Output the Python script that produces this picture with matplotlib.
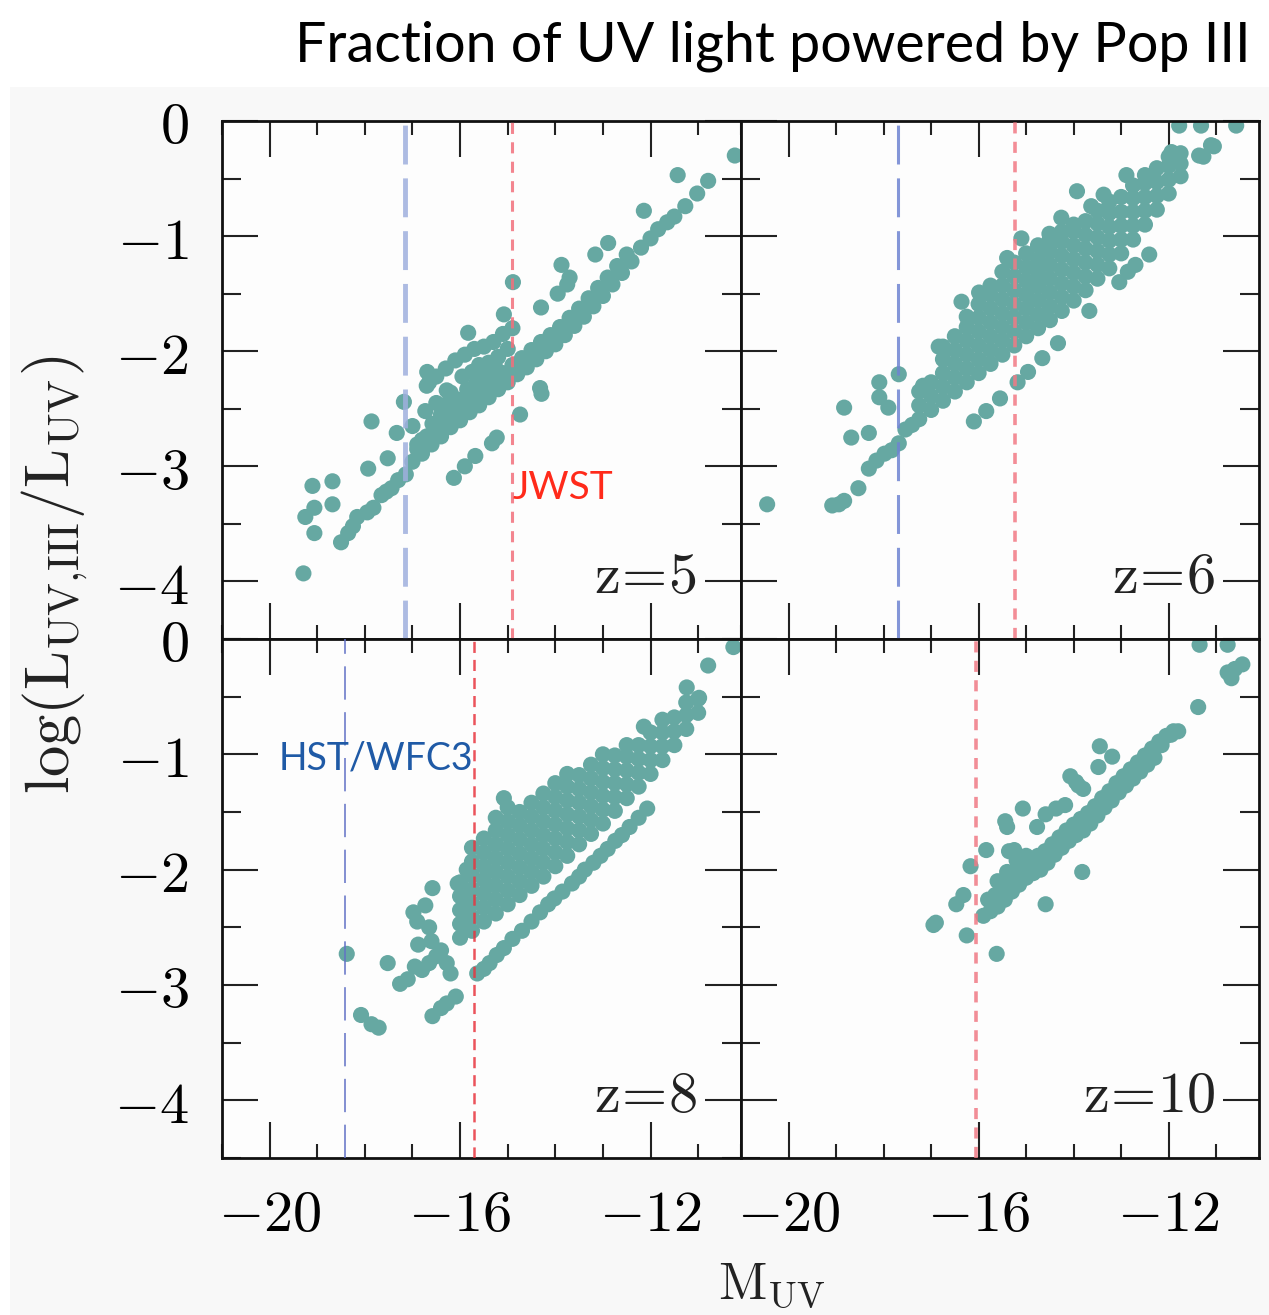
import matplotlib
matplotlib.use("Agg")
import matplotlib.pyplot as plt
from matplotlib.patches import Rectangle
from matplotlib.ticker import FixedLocator, FixedFormatter, MultipleLocator

plt.rcParams["mathtext.fontset"] = "cm"
plt.rcParams["lines.scale_dashes"] = False

# ---- data: (M_UV, log L_UV,III / L_UV) ----
REDSHIFTS = ["5", "6", "8", "10"]

Z5_POINTS = [
    # bright end
    (-19.29, -3.93), (-19.10, -3.17), (-18.68, -3.13), (-19.25, -3.44),
    (-19.06, -3.36), (-18.68, -3.33), (-19.06, -3.58),
    # lower sequence
    (-18.50, -3.66), (-18.35, -3.58), (-18.25, -3.52), (-18.16, -3.44),
    (-17.95, -3.40), (-17.82, -3.36), (-17.65, -3.25), (-17.55, -3.22),
    (-17.44, -3.19), (-17.30, -3.12), (-17.14, -3.07),
    # scatter above the sequence
    (-17.86, -2.61), (-17.93, -3.02), (-17.52, -2.93), (-17.33, -2.71),
    (-17.18, -2.44), (-16.73, -2.52), (-16.58, -2.63), (-16.80, -2.77),
    (-16.69, -2.18), (-16.65, -2.27), (-16.28, -2.34), (-16.28, -2.46),
    (-17.00, -2.65), (-16.90, -2.85),
    # cluster above the band
    (-16.70, -2.30), (-16.50, -2.22), (-16.30, -2.15), (-16.10, -2.08),
    (-15.90, -2.03), (-15.70, -1.98), (-15.50, -1.96), (-15.30, -1.92),
    (-15.10, -1.85), (-14.90, -1.80), (-14.30, -1.62), (-13.95, -1.50),
    (-16.50, -2.45), (-16.20, -2.36), (-15.95, -2.22), (-15.75, -2.18),
    (-15.60, -2.12), (-15.40, -2.10), (-15.20, -2.05), (-15.00, -1.98),
    (-16.40, -2.55), (-16.05, -2.42), (-15.85, -2.33), (-15.65, -2.27),
    (-15.45, -2.21), (-15.25, -2.15),
    # outliers above
    (-15.83, -1.84), (-15.08, -1.68), (-14.89, -1.40), (-13.87, -1.25),
    (-13.75, -1.42), (-13.70, -1.36), (-13.16, -1.16), (-12.89, -1.06),
    (-12.14, -0.78), (-11.43, -0.47), (-10.23, -0.30),
    # sequence below the band
    (-16.13, -3.10), (-15.90, -3.00), (-15.68, -2.91), (-15.33, -2.80),
    (-15.23, -2.75), (-14.74, -2.55), (-14.32, -2.32), (-14.29, -2.37),
    # main band, lower row
    (-17.0, -2.96), (-16.8, -2.89), (-16.6, -2.81), (-16.4, -2.74),
    (-16.2, -2.66), (-16.0, -2.60), (-15.8, -2.53), (-15.6, -2.47),
    (-15.4, -2.40), (-15.2, -2.33), (-15.0, -2.27), (-14.8, -2.20),
    (-14.6, -2.14), (-14.4, -2.07), (-14.2, -2.00), (-14.0, -1.94),
    (-13.8, -1.86), (-13.6, -1.78), (-13.4, -1.70), (-13.2, -1.61),
    (-13.0, -1.52), (-12.8, -1.42), (-12.6, -1.32), (-12.4, -1.22),
    # main band, upper row
    (-16.9, -2.81), (-16.7, -2.74), (-16.5, -2.66), (-16.3, -2.59),
    (-16.1, -2.52), (-15.9, -2.45), (-15.7, -2.39), (-15.5, -2.33),
    (-15.3, -2.26), (-15.1, -2.19), (-14.9, -2.12), (-14.7, -2.06),
    (-14.5, -1.99), (-14.3, -1.92), (-14.1, -1.86), (-13.9, -1.79),
    (-13.7, -1.71), (-13.5, -1.63), (-13.3, -1.54), (-13.1, -1.45),
    (-12.9, -1.36), (-12.7, -1.26), (-12.5, -1.16),
    # faint end
    (-12.20, -1.10), (-12.00, -1.02), (-11.84, -0.94), (-11.65, -0.88),
    (-11.50, -0.83), (-11.27, -0.74), (-11.02, -0.63), (-10.79, -0.52),
]

Z6_POINTS = [
    (-20.45, -3.33),
    (-19.08, -3.34), (-18.94, -3.33), (-18.83, -3.30), (-18.53, -3.19),
    (-18.31, -3.02), (-18.15, -2.95), (-17.98, -2.89), (-17.83, -2.86),
    (-17.68, -2.80), (-17.54, -2.68), (-17.40, -2.64),
    (-18.83, -2.49), (-18.68, -2.75), (-18.31, -2.71), (-18.09, -2.27),
    (-18.09, -2.40), (-17.90, -2.49), (-17.68, -2.20), (-17.17, -2.30),
    (-16.84, -1.96), (-16.36, -1.57),
    # sequence below the cloud
    (-16.10, -2.61), (-15.84, -2.52), (-15.55, -2.41), (-15.18, -2.27),
    (-14.96, -2.18), (-14.66, -2.06), (-14.33, -1.93), (-13.04, -1.40),
    (-12.86, -1.31), (-12.70, -1.25), (-12.41, -1.16), (-13.67, -1.65),
    # spikes above the cloud
    (-15.10, -1.02), (-14.51, -0.98), (-14.26, -0.84), (-13.93, -0.61),
    (-13.63, -0.74), (-13.37, -0.64), (-12.89, -0.47), (-11.94, -0.27),
    (-15.40, -1.19), (-15.99, -1.49),
    # faint end
    (-11.27, -0.31), (-11.05, -0.22), (-11.11, -0.21), (-11.36, -0.30),
    (-11.78, -0.04), (-11.32, -0.04), (-10.58, -0.04),
]

# dense cloud: (M_UV, [log fractions stacked in that column])
Z6_COLUMNS = [
    (-17.25, [-2.59, -2.47, -2.35]),
    (-17.00, [-2.51, -2.39, -2.27]),
    (-16.75, [-2.43, -2.31, -2.19, -2.07, -1.96]),
    (-16.50, [-2.35, -2.23, -2.11, -1.99, -1.87]),
    (-16.25, [-2.27, -2.15, -2.03, -1.91, -1.79, -1.70]),
    (-16.00, [-2.19, -2.07, -1.95, -1.83, -1.71, -1.59]),
    (-15.75, [-2.11, -1.99, -1.87, -1.75, -1.63, -1.51, -1.43]),
    (-15.50, [-2.03, -1.91, -1.79, -1.67, -1.55, -1.43, -1.31]),
    (-15.25, [-1.95, -1.83, -1.71, -1.59, -1.47, -1.35, -1.23]),
    (-15.00, [-1.87, -1.75, -1.63, -1.51, -1.39, -1.27, -1.15]),
    (-14.75, [-1.80, -1.68, -1.56, -1.44, -1.32, -1.20, -1.08]),
    (-14.50, [-1.73, -1.61, -1.49, -1.37, -1.25, -1.13, -1.02]),
    (-14.25, [-1.65, -1.53, -1.41, -1.29, -1.17, -1.05, -0.96]),
    (-14.00, [-1.56, -1.44, -1.32, -1.20, -1.08, -0.96, -0.90]),
    (-13.75, [-1.47, -1.35, -1.23, -1.11, -0.99, -0.87]),
    (-13.50, [-1.37, -1.25, -1.13, -1.01, -0.89, -0.78]),
    (-13.25, [-1.28, -1.16, -1.04, -0.92, -0.80, -0.70]),
    (-13.00, [-1.15, -1.03, -0.91, -0.79, -0.66]),
    (-12.75, [-1.03, -0.91, -0.79, -0.67, -0.56]),
    (-12.50, [-0.90, -0.78, -0.66, -0.54, -0.47]),
    (-12.25, [-0.77, -0.65, -0.53, -0.41]),
    (-12.00, [-0.63, -0.51, -0.39, -0.31]),
    (-11.75, [-0.48, -0.37, -0.28]),
]

Z8_POINTS = [
    (-18.38, -2.73), (-18.08, -3.26), (-17.86, -3.34), (-17.71, -3.37),
    (-17.52, -2.81), (-17.26, -2.99), (-17.10, -2.95), (-16.95, -2.84),
    (-16.80, -2.87), (-16.65, -2.81), (-16.50, -2.75), (-16.28, -2.81),
    (-16.20, -2.90), (-16.88, -2.65), (-16.98, -2.37), (-16.90, -2.45),
    (-16.73, -2.31), (-16.65, -2.50), (-16.58, -2.16), (-16.05, -2.12),
    (-15.86, -2.00), (-16.40, -2.70), (-16.60, -2.62),
    # separate lower sequence
    (-16.58, -3.27), (-16.40, -3.20), (-16.28, -3.16), (-16.09, -3.10),
    (-15.64, -2.90), (-15.50, -2.86), (-15.38, -2.81), (-15.23, -2.74),
    (-15.08, -2.68), (-14.90, -2.60), (-14.70, -2.53), (-14.50, -2.45),
    (-14.32, -2.37), (-14.15, -2.30), (-14.02, -2.25), (-13.85, -2.19),
    (-13.65, -2.12), (-13.50, -2.06), (-13.38, -2.00), (-13.20, -1.94),
    (-13.05, -1.88), (-12.90, -1.82), (-12.74, -1.75), (-12.60, -1.70),
    (-12.44, -1.63), (-12.25, -1.55), (-12.07, -1.47),
    # upper edge and faint end
    (-15.08, -1.38), (-12.14, -0.76), (-11.24, -0.42), (-10.98, -0.51),
    (-10.79, -0.23), (-10.26, -0.07),
]

Z8_COLUMNS = [
    (-16.00, [-2.59, -2.47, -2.35, -2.23, -2.11]),
    (-15.75, [-2.53, -2.41, -2.29, -2.17, -2.05, -1.93, -1.81]),
    (-15.50, [-2.45, -2.33, -2.21, -2.09, -1.97, -1.85, -1.73]),
    (-15.25, [-2.38, -2.26, -2.14, -2.02, -1.90, -1.78, -1.66, -1.55]),
    (-15.00, [-2.30, -2.18, -2.06, -1.94, -1.82, -1.70, -1.58, -1.46]),
    (-14.75, [-2.22, -2.10, -1.98, -1.86, -1.74, -1.62, -1.50]),
    (-14.50, [-2.14, -2.02, -1.90, -1.78, -1.66, -1.54, -1.42]),
    (-14.25, [-2.06, -1.94, -1.82, -1.70, -1.58, -1.46, -1.34]),
    (-14.00, [-1.97, -1.85, -1.73, -1.61, -1.49, -1.37, -1.25]),
    (-13.75, [-1.88, -1.76, -1.64, -1.52, -1.40, -1.28, -1.17]),
    (-13.50, [-1.78, -1.66, -1.54, -1.42, -1.30, -1.18]),
    (-13.25, [-1.69, -1.57, -1.45, -1.33, -1.21, -1.09]),
    (-13.00, [-1.60, -1.48, -1.36, -1.24, -1.12, -1.00]),
    (-12.75, [-1.49, -1.37, -1.25, -1.13, -1.01]),
    (-12.50, [-1.38, -1.26, -1.14, -1.02, -0.92]),
    (-12.25, [-1.28, -1.16, -1.04, -0.92]),
    (-12.00, [-1.17, -1.05, -0.93, -0.81]),
    (-11.75, [-1.05, -0.93, -0.81, -0.70]),
    (-11.50, [-0.92, -0.80, -0.68]),
    (-11.25, [-0.78, -0.66, -0.55]),
    (-11.00, [-0.64, -0.52]),
]

Z10_POINTS = [
    # scatter
    (-16.95, -2.48), (-16.90, -2.46), (-16.25, -2.57), (-15.62, -2.73),
    (-16.47, -2.30), (-16.32, -2.22), (-16.17, -1.97), (-15.84, -1.83),
    (-15.40, -1.63), (-15.44, -1.58), (-15.36, -1.84), (-15.25, -1.83),
    (-15.07, -1.47), (-14.77, -1.63), (-14.59, -1.52), (-14.37, -1.47),
    (-14.18, -1.44), (-14.07, -1.19), (-13.95, -1.24), (-13.80, -1.30),
    (-13.90, -1.27), (-13.48, -1.11), (-13.19, -1.02), (-13.45, -0.93),
    (-13.82, -2.02), (-14.59, -2.30),
    # bulge on the band
    (-15.60, -2.10), (-15.40, -2.02), (-15.20, -1.92), (-15.00, -1.88),
    (-15.50, -2.15), (-15.25, -2.05),
    # band, lower row
    (-15.90, -2.40), (-15.75, -2.36), (-15.60, -2.32), (-15.45, -2.26),
    (-15.30, -2.19), (-15.15, -2.13), (-15.00, -2.07), (-14.85, -2.03),
    (-14.70, -2.00), (-14.55, -1.94), (-14.40, -1.87), (-14.25, -1.81),
    (-14.10, -1.75), (-13.95, -1.70), (-13.80, -1.66), (-13.65, -1.60),
    (-13.50, -1.53), (-13.35, -1.46), (-13.20, -1.40), (-13.05, -1.33),
    (-12.90, -1.27), (-12.75, -1.21), (-12.60, -1.15), (-12.45, -1.09),
    (-12.30, -1.03),
    # band, upper row
    (-15.80, -2.26), (-15.65, -2.22), (-15.50, -2.17), (-15.35, -2.10),
    (-15.20, -2.03), (-15.05, -1.97), (-14.90, -1.92), (-14.75, -1.88),
    (-14.60, -1.84), (-14.45, -1.78), (-14.30, -1.72), (-14.15, -1.66),
    (-14.00, -1.61), (-13.85, -1.56), (-13.70, -1.51), (-13.55, -1.45),
    (-13.40, -1.38), (-13.25, -1.32), (-13.10, -1.25), (-12.95, -1.19),
    (-12.80, -1.13), (-12.65, -1.07), (-12.50, -1.01), (-12.35, -0.95),
    (-12.20, -0.89), (-12.05, -0.84), (-11.90, -0.80),
    (-12.15, -0.92), (-11.95, -0.83), (-11.80, -0.80),
    # faint end
    (-11.38, -0.59), (-10.76, -0.29), (-10.61, -0.26), (-10.45, -0.22),
    (-10.68, -0.34), (-11.35, -0.05), (-10.76, -0.05),
]

JWST_LIMIT = [-14.91, -15.24, -15.71, -16.05]
HST_LIMIT = [-17.16, -17.70, -18.42, None]

X_MAJOR = [-20, -16, -12]
X_LABELS = [r"$-20$", r"$-16$", r"$-12$"]
Y_MAJOR = [0, -1, -2, -3, -4]
Y_LABELS = [r"$0$", r"$-1$", r"$-2$", r"$-3$", r"$-4$"]


def unpack(points, columns=()):
    xs = [p[0] for p in points]
    ys = [p[1] for p in points]
    for x, col in columns:
        xs += [x] * len(col)
        ys += list(col)
    return xs, ys


panel_data = [
    unpack(Z5_POINTS),
    unpack(Z6_POINTS, Z6_COLUMNS),
    unpack(Z8_POINTS, Z8_COLUMNS),
    unpack(Z10_POINTS),
]

# pixel boxes (left, top, right, bottom) of the four panels
W, H = 1269, 1315
BOXES = [(222, 121, 741, 639), (741, 121, 1259, 639),
         (222, 639, 741, 1158), (741, 639, 1259, 1158)]

red_style = [("#f2707c", 2.2, (8, 6)), ("#f27a85", 2.6, (8, 6)),
             ("#e8353f", 1.8, (8, 5)), ("#f07a85", 2.6, (8, 6))]
blue_style = [("#9fb0de", 3.5, (28, 10)), ("#6f84d2", 2.2, (28, 10)),
              ("#6272c6", 1.3, (24, 9)), None]

fig = plt.figure(figsize=(W / 100, H / 100), dpi=100)
fig.patches.append(Rectangle((10 / W, 0), 1, 1 - 87 / H, transform=fig.transFigure,
                             facecolor="#f8f8f8", edgecolor="none", zorder=-10))

for i, (x0, y0, x1, y1) in enumerate(BOXES):
    ax = fig.add_axes([x0 / W, 1 - y1 / H, (x1 - x0) / W, (y1 - y0) / H])
    ax.set_facecolor("#fdfdfd")
    xs, ys = panel_data[i]
    ax.scatter(xs, ys, s=135, color="#66a8a2", edgecolors="none", zorder=2)

    c, lw, d = red_style[i]
    ax.axvline(JWST_LIMIT[i], color=c, lw=lw, dashes=d, alpha=0.85, zorder=3)
    if HST_LIMIT[i] is not None:
        c, lw, d = blue_style[i]
        ax.axvline(HST_LIMIT[i], color=c, lw=lw, dashes=d, alpha=0.85, zorder=3)

    ax.set_xlim(-21, -10.1)
    ax.set_ylim(-4.5, 0)
    ax.xaxis.set_major_locator(FixedLocator(X_MAJOR))
    ax.xaxis.set_major_formatter(FixedFormatter(X_LABELS))
    ax.xaxis.set_minor_locator(MultipleLocator(1))
    ax.yaxis.set_major_locator(FixedLocator(Y_MAJOR))
    ax.yaxis.set_major_formatter(FixedFormatter(Y_LABELS))
    ax.yaxis.set_minor_locator(MultipleLocator(0.5))
    ax.tick_params(which="both", direction="in", top=True, right=True,
                   width=1.5, color="#222222", labelsize=42)
    ax.tick_params(which="major", length=26)
    ax.tick_params(axis="x", which="minor", length=10)
    ax.tick_params(axis="y", which="minor", length=14)
    ax.tick_params(axis="x", pad=20)
    ax.tick_params(axis="y", pad=24)
    ax.tick_params(labelbottom=i >= 2, labelleft=i % 2 == 0)
    for sp in ax.spines.values():
        sp.set_linewidth(2.0)
        sp.set_color("#111111")

    ax.text(-11.02, -3.96, r"$\mathrm{z}\!=\!\mathrm{" + REDSHIFTS[i] + "}$",
            fontsize=42, ha="right", va="center", color="#222222", zorder=4)

    if i == 0:
        ax.text(-14.89, -3.19, "JWST", family="Lato", fontsize=28,
                color="#ff2a1a", ha="left", va="center", zorder=4)
    if i == 2:
        ax.text(-19.82, -1.04, "HST/WFC3", family="Lato", fontsize=27,
                color="#1f5aa6", ha="left", va="center", zorder=4)

fig.text(773 / W, 1 - 62 / H, "Fraction of UV light powered by Pop III",
         family="Lato", fontsize=40, ha="center", va="baseline")
fig.text(772 / W, 1 - 1298 / H, r"$\mathrm{M_{UV}}$", fontsize=38,
         ha="center", va="baseline", color="#222222")
fig.text(55 / W, 1 - 575 / H, r"$\mathrm{log(L_{UV{,}III}/L_{UV})}$", fontsize=45,
         rotation=90, ha="center", va="center", color="#222222")

fig.savefig("out.png", dpi=100)
